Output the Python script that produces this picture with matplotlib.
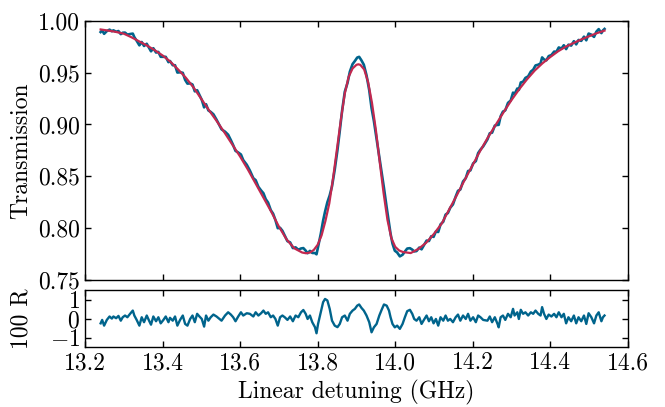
import numpy as np
import matplotlib
matplotlib.use("Agg")
import matplotlib.pyplot as plt

# fit curve (detuning in GHz, transmission)
fit_x = [13.24, 13.26, 13.28, 13.30, 13.32, 13.34, 13.36, 13.38, 13.40, 13.42,
         13.44, 13.46, 13.48, 13.50, 13.52, 13.54, 13.56, 13.58, 13.60, 13.62,
         13.64, 13.66, 13.68, 13.70, 13.72, 13.74, 13.76, 13.77, 13.78, 13.79,
         13.80, 13.81, 13.82, 13.83, 13.84, 13.85, 13.86, 13.87, 13.88, 13.89,
         13.90, 13.905, 13.91, 13.92, 13.93, 13.94, 13.95, 13.96, 13.97, 13.98,
         13.99, 14.00, 14.01, 14.02, 14.04, 14.06, 14.08, 14.10, 14.12, 14.14,
         14.16, 14.18, 14.20, 14.22, 14.24, 14.26, 14.28, 14.30, 14.32, 14.34,
         14.36, 14.38, 14.40, 14.42, 14.44, 14.46, 14.48, 14.50, 14.52, 14.54]
fit_t = [0.9916, 0.9905, 0.9892, 0.9875, 0.9840, 0.9800, 0.9760, 0.9715, 0.9665, 0.9605,
         0.9530, 0.9450, 0.9355, 0.9245, 0.9135, 0.9030, 0.8920, 0.8805, 0.8690, 0.8565,
         0.8430, 0.8295, 0.8160, 0.8015, 0.7890, 0.7805, 0.7765, 0.7758, 0.7765, 0.7790,
         0.7840, 0.7930, 0.8070, 0.8240, 0.8490, 0.8770, 0.9050, 0.9300, 0.9460, 0.9540,
         0.9575, 0.9580, 0.9575, 0.9530, 0.9410, 0.9210, 0.8950, 0.8640, 0.8340, 0.8080,
         0.7905, 0.7820, 0.7785, 0.7770, 0.7760, 0.7800, 0.7860, 0.7945, 0.8045, 0.8185,
         0.8325, 0.8470, 0.8610, 0.8750, 0.8880, 0.9000, 0.9120, 0.9235, 0.9340, 0.9435,
         0.9520, 0.9590, 0.9650, 0.9705, 0.9750, 0.9785, 0.9820, 0.9850, 0.9880, 0.9905]

# residuals (x100)
res_x = [13.240, 13.244, 13.249, 13.256, 13.263, 13.269, 13.273, 13.280, 13.286, 13.292,
         13.297, 13.303, 13.309, 13.316, 13.323, 13.327, 13.333, 13.340, 13.346, 13.352,
         13.359, 13.365, 13.370, 13.376, 13.383, 13.389, 13.395, 13.402, 13.408, 13.415,
         13.419, 13.426, 13.432, 13.438, 13.445, 13.452, 13.458, 13.464, 13.471, 13.477,
         13.483, 13.489, 13.495, 13.501, 13.507, 13.512, 13.518, 13.524, 13.531, 13.539,
         13.552, 13.561, 13.569, 13.576, 13.582, 13.588, 13.595, 13.602, 13.608, 13.617,
         13.625, 13.634, 13.640, 13.647, 13.654, 13.660, 13.666, 13.672, 13.679, 13.685,
         13.691, 13.697, 13.703, 13.709, 13.715, 13.722, 13.729, 13.736, 13.743, 13.750,
         13.757, 13.763, 13.769, 13.774, 13.780, 13.786, 13.793, 13.797, 13.801, 13.808,
         13.814, 13.819, 13.825, 13.831, 13.837, 13.844, 13.851, 13.857, 13.863, 13.870,
         13.877, 13.883, 13.890, 13.896, 13.902, 13.907, 13.913, 13.919, 13.926, 13.933,
         13.939, 13.945, 13.952, 13.959, 13.965, 13.971, 13.978, 13.984, 13.988, 13.993,
         13.999, 14.005, 14.012, 14.019, 14.025, 14.031, 14.038, 14.044, 14.049, 14.055,
         14.062, 14.068, 14.074, 14.081, 14.087, 14.093, 14.099, 14.105, 14.111, 14.117,
         14.124, 14.130, 14.136, 14.142, 14.149, 14.156, 14.162, 14.168, 14.175, 14.182,
         14.188, 14.194, 14.201, 14.208, 14.214, 14.220, 14.227, 14.238, 14.244, 14.250,
         14.257, 14.264, 14.267, 14.272, 14.278, 14.284, 14.291, 14.298, 14.304, 14.308,
         14.315, 14.319, 14.324, 14.330, 14.336, 14.343, 14.350, 14.356, 14.362, 14.369,
         14.375, 14.379, 14.384, 14.390, 14.396, 14.403, 14.410, 14.416, 14.422, 14.429,
         14.435, 14.441, 14.447, 14.454, 14.461, 14.467, 14.473, 14.480, 14.487, 14.493,
         14.499, 14.506, 14.513, 14.519, 14.525, 14.532, 14.536, 14.540]
res_v = [-0.25, -0.07, -0.37, -0.07, 0.11, 0.00, 0.11, 0.02, 0.14, -0.11,
         0.07, 0.16, 0.07, 0.25, 0.42, 0.16, -0.07, -0.37, 0.07, -0.19,
         0.16, -0.11, -0.32, 0.11, -0.14, 0.07, -0.25, -0.07, 0.11, -0.19,
         0.04, -0.11, 0.11, -0.37, -0.07, 0.16, -0.28, -0.37, -0.02, 0.16,
         -0.19, 0.25, 0.11, -0.02, -0.42, 0.16, -0.11, 0.07, 0.21, 0.11,
         -0.11, 0.16, 0.33, 0.21, 0.07, -0.14, 0.11, 0.33, 0.16, 0.28,
         0.25, 0.11, 0.33, 0.16, 0.28, 0.42, 0.25, 0.33, 0.07, 0.16,
         -0.02, -0.37, 0.07, 0.16, 0.07, -0.07, 0.11, -0.14, 0.16, 0.07,
         0.33, 0.45, 0.25, -0.02, 0.16, -0.19, -0.45, -0.77, -0.28, 0.33,
         0.86, 1.03, 0.95, 0.51, -0.11, -0.37, -0.45, -0.28, 0.07, 0.16,
         -0.11, 0.25, 0.42, 0.51, 0.68, 0.74, 0.56, 0.42, 0.16, -0.19,
         -0.72, -0.46, -0.28, 0.16, 0.46, 0.74, 0.68, 0.42, 0.07, -0.28,
         -0.46, -0.37, -0.54, -0.28, 0.07, 0.39, 0.46, 0.25, -0.02, -0.11,
         0.07, -0.28, -0.07, 0.16, -0.14, 0.07, -0.25, -0.02, -0.37, 0.07,
         -0.11, 0.16, -0.11, -0.02, -0.19, 0.07, 0.21, -0.11, 0.16, -0.02,
         0.25, -0.11, 0.07, -0.19, 0.16, 0.07, -0.07, -0.11, 0.11, -0.19,
         0.07, -0.28, -0.46, 0.07, 0.16, -0.07, 0.25, 0.07, 0.51, 0.16,
         0.33, -0.02, 0.46, 0.25, 0.33, 0.16, 0.33, 0.25, 0.42, 0.25,
         0.16, 0.60, 0.25, -0.02, 0.21, 0.11, 0.25, 0.07, 0.33, 0.07,
         0.25, -0.25, 0.07, -0.14, 0.16, -0.25, 0.07, -0.14, 0.16, -0.28,
         0.28, 0.07, -0.25, 0.16, 0.33, -0.14, 0.07, 0.16]

x_ticks = [13.2, 13.4, 13.6, 13.8, 14.0, 14.2, 14.4, 14.6]
t_ticks = [0.75, 0.80, 0.85, 0.90, 0.95, 1.00]
r_ticks = [-1, 0, 1]

data_color = "#00648c"
fit_color = "#c2284f"

plt.rcParams['font.family'] = 'cmr10'
plt.rcParams['mathtext.fontset'] = 'cm'
plt.rcParams['axes.formatter.use_mathtext'] = True
plt.rcParams['font.size'] = 17

res_x = np.array(res_x)
res_v = np.array(res_v)
# measured trace = fit + residual/100
data_t = np.interp(res_x, fit_x, fit_t) + res_v / 100.0

fig = plt.figure(figsize=(6.65, 4.07), dpi=100)
ax1 = fig.add_axes([0.128, 0.312, 0.816, 0.637])
ax2 = fig.add_axes([0.128, 0.147, 0.816, 0.1405], sharex=ax1)

ax1.plot(res_x, data_t, color=data_color, lw=1.9)
ax1.plot(fit_x, fit_t, color=fit_color, lw=1.6)
ax1.set_ylim(0.75, 1.00)
ax1.set_yticks(t_ticks)
ax1.set_yticklabels(["%.2f" % t for t in t_ticks])
ax1.set_ylabel("Transmission")
ax1.tick_params(labelbottom=False)

ax2.plot(res_x, res_v, color=data_color, lw=1.7)
ax2.set_ylim(-1.5, 1.5)
ax2.set_yticks(r_ticks)
ax2.set_yticklabels([r"$-1$", r"$0$", r"$1$"])
ax2.set_xlim(13.2, 14.6)
ax2.set_xticks(x_ticks)
ax2.set_xticklabels(["%.1f" % v for v in x_ticks])
ax2.set_ylabel("100 R")
ax2.set_xlabel("Linear detuning (GHz)")

for ax in (ax1, ax2):
    ax.tick_params(direction='in', top=True, right=True, length=4, width=1)
    for s in ax.spines.values():
        s.set_linewidth(1.0)
    # both y labels sit in the same column, left of the tick labels
    ax.yaxis.set_label_coords(-0.097, 0.5)

fig.savefig("out.png", dpi=100)
